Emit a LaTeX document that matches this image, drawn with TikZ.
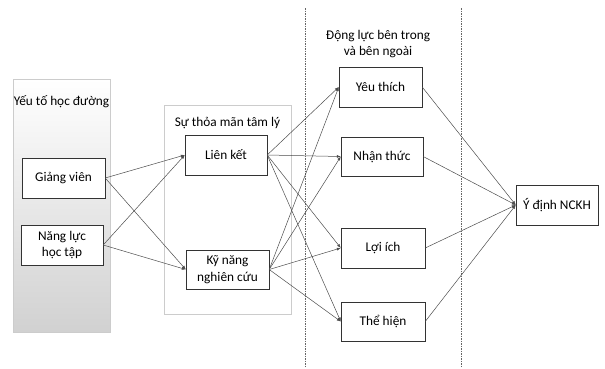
\documentclass[tikz,border=0pt]{standalone}
\usepackage{fontspec}
\setmainfont{Carlito}
\usepackage{tikz}
\usetikzlibrary{
    calc,positioning,arrows.meta,shapes
}
\tikzset{
    block/.style={rectangle, minimum height=40, minimum width=83, draw=black!80, thin, text centered, inner sep=0pt, align=center},
    title/.style={text centered, align=center, inner sep=0pt},
    line/.style={-{Latex[length=4pt,width=3pt]}, draw=black!70, line width=0.5pt},
    panel/.style={draw=black!20, line width=0.6pt},
    sep/.style={draw=black!60, line width=0.6pt, dash pattern=on 1.5pt off 1pt},
}

\begin{document}
\begin{tikzpicture}
        [x=1pt, y=-1pt, font=\fontsize{13.3}{16.5}\selectfont]

        \useasboundingbox (0,0) rectangle (605,368);

        % Background panels
        \shade[panel, top color=white, bottom color=black!18] (13,79) rectangle (110,332);
        \draw[panel] (164,105) rectangle (291,314);

        % Separators
        \draw[sep] (305,8) -- (305,368);
        \draw[sep] (461,8) -- (461,368);

        % Titles of the groups
        \node[title] (school) at (61.5,102) {Yếu tố học đường};
        \node[title] (satisf) at (227.5,123) {Sự thỏa mãn tâm lý};
        \node[title] (motiv) at (378,44) {Động lực bên trong\\và bên ngoài};

        % Nodes of the first group
        \node[block, fill=white] (lecturer) at (63.5,178) {Giảng viên};
        \node[block, fill=white, minimum width=82] (ability) at (62,245) {Năng lực\\học tập};

        % Nodes of the second group
        \node[block, minimum width=82] (link) at (226,155) {Liên kết};
        \node[block, minimum height=39] (skill) at (227.5,269.5) {Kỹ năng\\nghiên cứu};

        % Nodes of the third group
        \node[block] (like) at (380.5,87) {Yêu thích};
        \node[block, minimum width=82, minimum height=39] (aware) at (382,156.5) {Nhận thức};
        \node[block, minimum width=84] (benefit) at (383,248) {Lợi ích};
        \node[block, minimum width=84, minimum height=39] (show) at (383,321.5) {Thể hiện};

        % Outcome
        \node[block, minimum width=82] (intent) at (557,205) {Ý định NCKH};

        % Arrows into the second group
        \draw[line] (lecturer.east) -- (link.west);
        \draw[line] (lecturer.east) -- (skill.west);
        \draw[line] (ability.east) -- (link.west);
        \draw[line] (ability.east) -- (skill.west);

        % Arrows into the third group
        \draw[line] (link.east) -- (like.west);
        \draw[line] (link.east) -- (aware.west);
        \draw[line] (link.east) -- (benefit.west);
        \draw[line] (link.east) -- (show.west);
        \draw[line] (skill.east) -- (like.west);
        \draw[line] (skill.east) -- (aware.west);
        \draw[line] (skill.east) -- (benefit.west);
        \draw[line] (skill.east) -- (show.west);

        % Arrows into the outcome
        \draw[line] (like.east) -- (intent.west);
        \draw[line] (aware.east) -- (intent.west);
        \draw[line] (benefit.east) -- (intent.west);
        \draw[line] (show.east) -- (intent.west);
    \end{tikzpicture}
\end{document}
